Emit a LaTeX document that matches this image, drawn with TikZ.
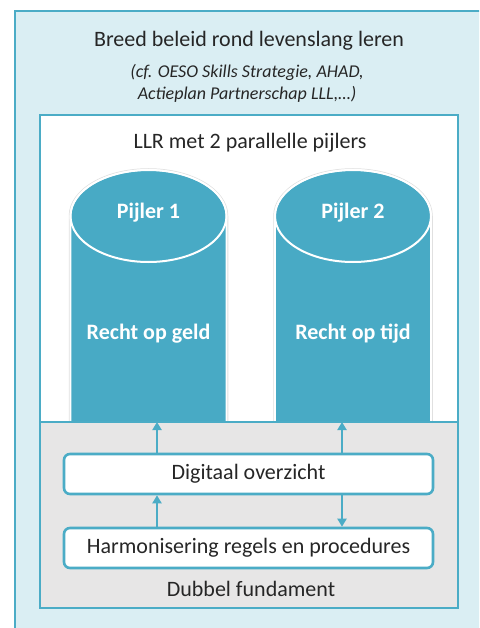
\documentclass[tikz,border=0pt]{standalone}
\usepackage{fontspec}
\setmainfont{Carlito}
\usetikzlibrary{arrows.meta}
\definecolor{accent}{HTML}{4BACC6}
\definecolor{pillar}{HTML}{48AAC5}
\definecolor{paleblue}{HTML}{DAEEF3}
\definecolor{palegray}{HTML}{E7E6E6}
\definecolor{ink}{HTML}{262626}
\tikzset{
  txt/.style={text=ink, font=\fontsize{22}{26}\selectfont, inner sep=0pt},
  itxt/.style={text=ink, font=\fontsize{18}{22}\selectfont\itshape, inner sep=0pt},
  ptxt/.style={text=white, font=\fontsize{22}{26}\selectfont\bfseries, inner sep=0pt},
  roundbox/.style={draw=accent, line width=2.6pt, rounded corners=6pt, fill=white,
    minimum width=369pt, minimum height=40pt, text=ink, font=\fontsize{22}{26}\selectfont, inner sep=0pt},
  conn/.style={draw=accent, line width=2.5pt, -{Triangle[width=9pt,length=8pt]}},
  frame/.style={draw=accent, line width=1.5pt},
}
\begin{document}
\begin{tikzpicture}[x=1pt,y=-1pt]
\useasboundingbox (0,0) rectangle (479,628);
\clip (0,0) rectangle (479,628);
% outer frame
\fill[paleblue] (15,11) rectangle (490,640);
\draw[frame] (15,640) -- (15,11) -- (490,11);
% inner white frame
\filldraw[frame, fill=white] (40,115) rectangle (458,422);
% cylinders
\foreach \cx in {148.5,353} {
  \draw[black!12, line width=3.5pt] (\cx-78,216) -- (\cx-78,430) -- (\cx+78,430) -- (\cx+78,216) arc[start angle=0,end angle=180,x radius=78,y radius=-46];
  \fill[pillar] (\cx-78,216) -- (\cx-78,430) -- (\cx+78,430) -- (\cx+78,216) arc[start angle=0,end angle=180,x radius=78,y radius=-46];
  \draw[white, line width=1.6pt] (\cx-78,216) -- (\cx-78,430) -- (\cx+78,430) -- (\cx+78,216) arc[start angle=0,end angle=180,x radius=78,y radius=-46];
  \draw[white, line width=2pt] (\cx,216) ellipse[x radius=78, y radius=46];
}
% gray foundation
\filldraw[frame, fill=palegray] (40,422) rectangle (458,608);
% texts
\node[txt] (title) at (249,41) {Breed beleid rond levenslang leren};
\node[itxt] (sub1) at (247,72) {(cf. OESO Skills Strategie, AHAD,};
\node[itxt] (sub2) at (247,94) {Actieplan Partnerschap LLL,…)};
\node[txt] (llr) at (250,143) {LLR met 2 parallelle pijlers};
\node[ptxt] (p1) at (148.5,213) {Pijler 1};
\node[ptxt] (p2) at (353,213) {Pijler 2};
\node[ptxt] (r1) at (148.5,334) {Recht op geld};
\node[ptxt] (r2) at (353,334) {Recht op tijd};
\node[roundbox] (dig) at (248.5,474) {Digitaal overzicht};
\node[roundbox] (harm) at (248.5,548) {Harmonisering regels en procedures};
\node[txt] (fund) at (251,589) {Dubbel fundament};
\coordinate (g1) at (157,422);
\coordinate (g2) at (342,422);
\draw[conn] (dig.north -| g1) -- (g1);
\draw[conn] (dig.north -| g2) -- (g2);
\draw[conn] (harm.north -| g1) -- (dig.south -| g1);
\draw[conn] (dig.south -| g2) -- (harm.north -| g2);
\end{tikzpicture}
\end{document}
